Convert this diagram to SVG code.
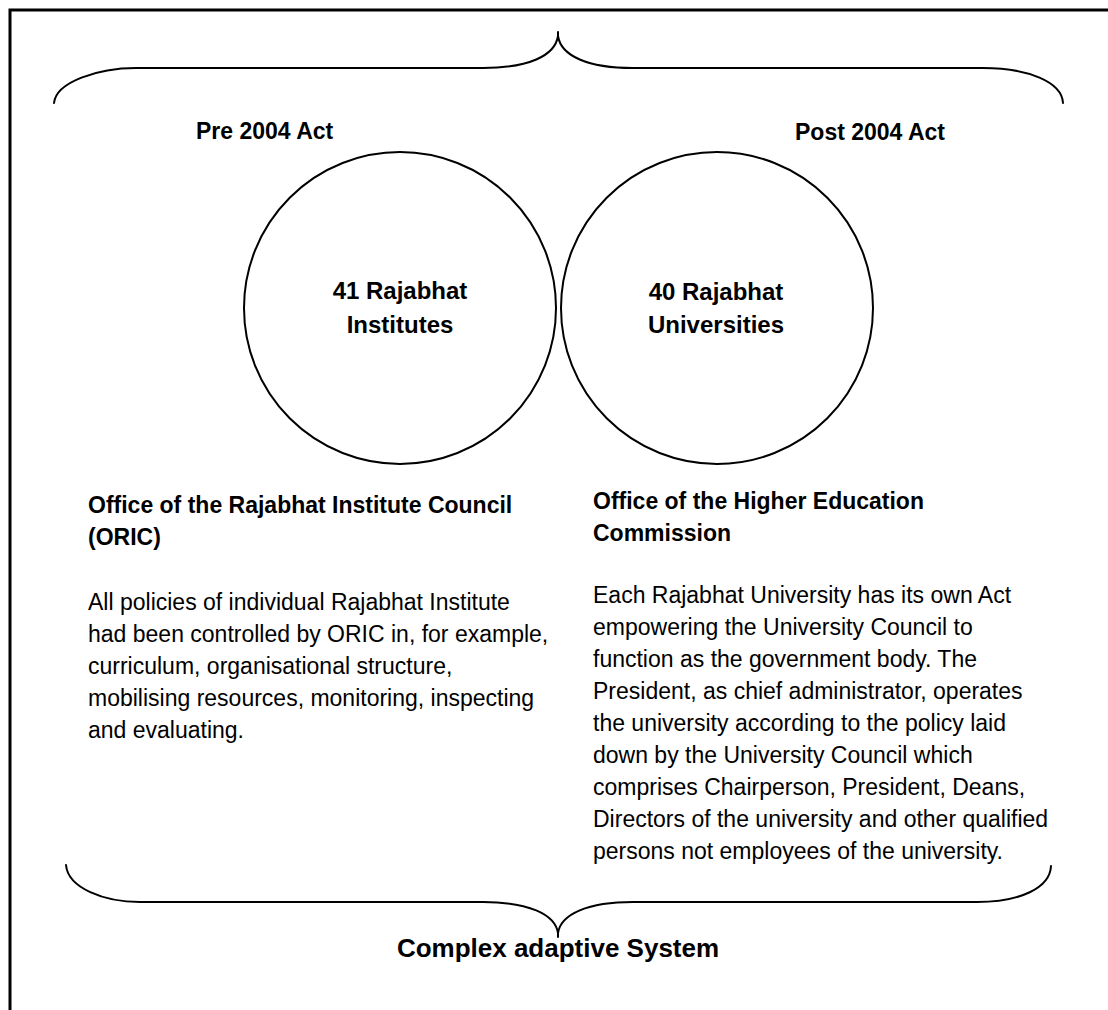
<svg xmlns="http://www.w3.org/2000/svg" width="1108" height="1010" viewBox="0 0 1108 1010">
  <style>
    .frame { fill: none; stroke: #000; stroke-width: 3; }
    .brace { fill: none; stroke: #000; stroke-width: 2; stroke-linecap: round; stroke-linejoin: round; }
    .ring { fill: #fff; stroke: #000; stroke-width: 2; }
    .b { font-family: "Liberation Sans", Arial, sans-serif; font-weight: bold; fill: #000; }
    .r { font-family: "Liberation Sans", Arial, sans-serif; font-size: 23px; fill: #000; }
    .h23 { font-size: 23px; }
    .h24 { font-size: 24px; }
    .h26 { font-size: 26px; }
  </style>

  <!-- open frame: top and left edges -->
  <path class="frame" d="M10,1010 L10,10 L1108,10"/>

  <!-- braces -->
  <g id="connectors">
    <path class="brace" d="M54,103 C56,82 98,68 136,68 L483,68 C528,68 555,56 558,36 L558,32 M558,36 C561,56 588,68 633,68 L983,68 C1028,68 1062,82 1063,103"/>
    <path class="brace" d="M66,865 C68,888 104,902 140,902 L483,902 C528,902 555,914 558,933 L558,937 M558,933 C561,914 588,902 633,902 L977,902 C1020,902 1050,888 1051,866"/>
  </g>

  <g id="pre-label">
    <text class="b h23" x="196" y="139">Pre 2004 Act</text>
  </g>
  <g id="post-label">
    <text class="b h23" x="795" y="140">Post 2004 Act</text>
  </g>

  <g id="institutes">
    <circle class="ring" cx="400" cy="308" r="156"/>
    <text class="b h24" text-anchor="middle" x="400" y="299">41 Rajabhat</text>
    <text class="b h24" text-anchor="middle" x="400" y="333">Institutes</text>
  </g>

  <g id="universities">
    <circle class="ring" cx="717" cy="308" r="156"/>
    <text class="b h24" text-anchor="middle" x="716" y="300">40 Rajabhat</text>
    <text class="b h24" text-anchor="middle" x="716" y="333">Universities</text>
  </g>

  <g id="oric">
    <text class="b h23" x="88" y="513">Office of the Rajabhat Institute Council</text>
    <text class="b h23" x="88" y="545">(ORIC)</text>
    <text class="r" x="88" y="610">All policies of individual Rajabhat Institute</text>
    <text class="r" x="88" y="642">had been controlled by ORIC in, for example,</text>
    <text class="r" x="88" y="674">curriculum, organisational structure,</text>
    <text class="r" x="88" y="706">mobilising resources, monitoring, inspecting</text>
    <text class="r" x="88" y="738">and evaluating.</text>
  </g>

  <g id="ohec">
    <text class="b h23" x="593" y="509">Office of the Higher Education</text>
    <text class="b h23" x="593" y="541">Commission</text>
    <text class="r" x="593" y="603">Each Rajabhat University has its own Act</text>
    <text class="r" x="593" y="635">empowering the University Council to</text>
    <text class="r" x="593" y="667">function as the government body. The</text>
    <text class="r" x="593" y="699">President, as chief administrator, operates</text>
    <text class="r" x="593" y="731">the university according to the policy laid</text>
    <text class="r" x="593" y="763">down by the University Council which</text>
    <text class="r" x="593" y="795">comprises Chairperson, President, Deans,</text>
    <text class="r" x="593" y="827">Directors of the university and other qualified</text>
    <text class="r" x="593" y="859">persons not employees of the university.</text>
  </g>

  <g id="system-label">
    <text class="b h26" text-anchor="middle" x="558" y="957">Complex adaptive System</text>
  </g>
</svg>
